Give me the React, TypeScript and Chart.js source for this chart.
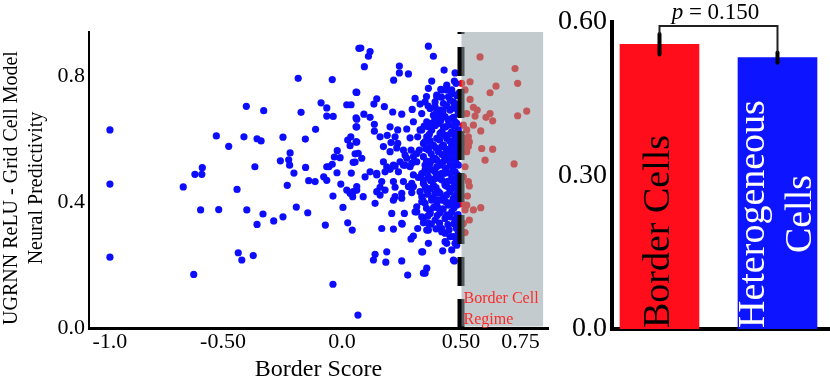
import React, { useEffect, useRef } from 'react';
import { Chart, registerables } from 'chart.js';
Chart.register(...registerables);

const FONT = '"Liberation Serif", "Times New Roman", serif';

// Scatter: non-border (heterogeneous) cells [borderScore, predictivity]
const heterogeneousPoints: [number, number][] = [
  [-0.975, 0.629], [-0.975, 0.457], [-0.975, 0.225],
  [-0.402, 0.704], [-0.528, 0.61], [-0.412, 0.607], [-0.476, 0.577], [-0.587, 0.509], [-0.618, 0.488], [-0.589, 0.488],
  [-0.667, 0.448], [-0.441, 0.44], [-0.594, 0.375], [-0.518, 0.376], [-0.4, 0.375], [-0.436, 0.239], [-0.421, 0.216], [-0.623, 0.17],
  [0.071, 0.888], [-0.184, 0.793], [-0.041, 0.789], [0.059, 0.749], [-0.329, 0.69], [-0.172, 0.685], [-0.088, 0.715], [-0.064, 0.699],
  [0.02, 0.709], [0.038, 0.709], [-0.064, 0.673], [-0.037, 0.672], [0.059, 0.667], [0.059, 0.639], [-0.111, 0.631], [-0.357, 0.601],
  [-0.34, 0.594], [-0.248, 0.606], [-0.154, 0.6], [0.037, 0.607], [0.024, 0.597], [0.059, 0.591], [0.034, 0.579], [-0.02, 0.563],
  [-0.218, 0.556], [0.055, 0.553], [-0.032, 0.543], [-0.008, 0.541], [-0.259, 0.531], [-0.224, 0.534], [-0.22, 0.517], [0.047, 0.526],
  [-0.366, 0.512], [-0.153, 0.51], [-0.064, 0.512], [-0.041, 0.52], [-0.055, 0.512], [-0.202, 0.492], [-0.021, 0.493], [0.039, 0.492],
  [-0.077, 0.48], [-0.064, 0.469], [-0.14, 0.468], [-0.113, 0.465], [-0.23, 0.453], [-0.005, 0.457], [0.02, 0.438], [0.034, 0.428],
  [0.047, 0.433], [0.062, 0.438], [0.045, 0.417], [-0.038, 0.419], [0.004, 0.383], [-0.192, 0.384], [-0.144, 0.366], [-0.332, 0.362],
  [-0.357, 0.329], [-0.287, 0.34], [-0.248, 0.353], [-0.07, 0.327], [0.024, 0.334], [0.043, 0.311], [-0.373, 0.23], [-0.038, 0.139], [0.067, 0.041],
  [0.079, 0.889], [0.118, 0.878], [0.111, 0.863], [0.094, 0.83], [0.241, 0.832], [0.241, 0.81], [0.279, 0.807], [0.217, 0.787],
  [0.062, 0.748], [0.146, 0.728], [0.134, 0.711], [0.178, 0.703], [0.307, 0.729], [0.328, 0.711], [0.295, 0.694], [0.213, 0.686],
  [0.251, 0.679], [0.092, 0.679], [0.118, 0.669], [0.062, 0.663], [0.062, 0.639], [0.136, 0.647], [0.136, 0.625], [0.202, 0.639],
  [0.234, 0.629], [0.272, 0.632], [0.328, 0.629], [0.16, 0.607], [0.19, 0.612], [0.223, 0.607], [0.286, 0.604], [0.318, 0.607],
  [0.062, 0.591], [0.206, 0.589], [0.234, 0.586], [0.174, 0.576], [0.23, 0.572], [0.325, 0.565], [0.202, 0.56], [0.29, 0.565],
  [0.068, 0.555], [0.265, 0.549], [0.3, 0.544], [0.083, 0.539], [0.272, 0.539], [0.244, 0.528], [0.314, 0.528], [0.174, 0.528],
  [0.055, 0.527], [0.265, 0.517], [0.188, 0.512], [0.223, 0.514], [0.286, 0.512], [0.349, 0.517], [0.202, 0.504], [0.237, 0.496],
  [0.118, 0.496], [0.146, 0.486], [0.097, 0.48], [0.3, 0.486], [0.321, 0.478], [0.167, 0.465], [0.216, 0.465], [0.258, 0.465],
  [0.279, 0.449], [0.223, 0.447], [0.16, 0.447], [0.062, 0.449], [0.3, 0.449], [0.181, 0.438], [0.146, 0.433], [0.251, 0.428],
  [0.293, 0.43], [0.089, 0.417], [0.223, 0.417], [0.16, 0.422], [0.335, 0.401], [0.139, 0.396], [0.216, 0.406], [0.314, 0.385],
  [0.314, 0.369], [0.209, 0.364], [0.262, 0.364], [0.335, 0.353], [0.342, 0.334], [0.251, 0.332], [0.167, 0.316], [0.216, 0.314],
  [0.318, 0.316], [0.3, 0.292], [0.29, 0.283], [0.188, 0.242], [0.139, 0.234], [0.132, 0.216], [0.184, 0.209], [0.251, 0.213],
  [0.339, 0.242], [0.342, 0.174], [0.276, 0.168],
  [0.363, 0.895], [0.384, 0.863], [0.429, 0.819], [0.475, 0.81], [0.377, 0.784], [0.472, 0.784], [0.44, 0.771], [0.363, 0.761],
  [0.419, 0.756], [0.461, 0.756], [0.398, 0.74], [0.447, 0.734], [0.349, 0.718], [0.391, 0.718], [0.426, 0.713], [0.468, 0.718],
  [0.37, 0.697], [0.412, 0.692], [0.454, 0.692], [0.482, 0.697], [0.335, 0.681], [0.384, 0.676], [0.433, 0.671], [0.468, 0.669],
  [0.356, 0.655], [0.405, 0.65], [0.447, 0.644], [0.482, 0.65], [0.335, 0.629], [0.377, 0.629], [0.419, 0.623], [0.461, 0.623],
  [0.489, 0.629], [0.356, 0.607], [0.398, 0.602], [0.44, 0.602], [0.475, 0.602], [0.342, 0.586], [0.384, 0.581], [0.426, 0.581],
  [0.461, 0.581], [0.363, 0.565], [0.405, 0.56], [0.447, 0.56], [0.482, 0.56], [0.342, 0.544], [0.391, 0.539], [0.433, 0.539],
  [0.468, 0.539], [0.37, 0.523], [0.412, 0.517], [0.454, 0.517], [0.489, 0.517], [0.349, 0.502], [0.391, 0.496], [0.44, 0.496],
  [0.475, 0.496], [0.363, 0.48], [0.412, 0.475], [0.461, 0.475], [0.342, 0.459], [0.384, 0.454], [0.433, 0.454], [0.475, 0.454],
  [0.356, 0.438], [0.405, 0.433], [0.454, 0.433], [0.335, 0.417], [0.377, 0.412], [0.426, 0.412], [0.468, 0.412], [0.349, 0.396],
  [0.398, 0.39], [0.447, 0.39], [0.482, 0.39], [0.37, 0.369], [0.412, 0.366], [0.461, 0.369], [0.342, 0.348], [0.391, 0.343],
  [0.433, 0.348], [0.475, 0.343], [0.356, 0.311], [0.419, 0.316], [0.433, 0.301], [0.468, 0.29], [0.363, 0.269], [0.44, 0.269],
  [0.482, 0.263], [0.335, 0.242], [0.423, 0.245], [0.472, 0.213], [0.356, 0.19], [0.349, 0.174],
  [0.415, 0.758], [0.3, 0.655], [0.363, 0.639], [0.258, 0.565], [0.37, 0.576], [0.391, 0.703], [0.412, 0.676], [0.377, 0.65],
  [0.426, 0.639], [0.398, 0.734], [0.454, 0.724], [0.461, 0.745], [0.468, 0.698], [0.447, 0.66], [0.475, 0.655], [0.44, 0.607],
  [0.475, 0.618], [0.412, 0.618], [0.461, 0.576], [0.419, 0.576], [0.349, 0.592], [0.479, 0.777], [0.44, 0.756],
  [0.314, 0.554], [0.216, 0.517], [0.258, 0.517], [0.293, 0.523], [0.363, 0.523], [0.398, 0.533], [0.44, 0.544], [0.146, 0.491],
  [0.181, 0.496], [0.377, 0.502], [0.419, 0.491], [0.454, 0.491], [0.293, 0.459], [0.342, 0.47], [0.391, 0.475], [0.433, 0.459],
  [0.468, 0.465], [0.328, 0.433], [0.37, 0.443], [0.412, 0.428], [0.454, 0.438], [0.475, 0.417], [0.251, 0.412], [0.377, 0.406],
  [0.419, 0.406], [0.454, 0.396], [0.307, 0.369], [0.37, 0.364], [0.405, 0.38], [0.44, 0.359], [0.363, 0.332], [0.253, 0.33],
  [0.363, 0.311], [0.419, 0.306], [0.454, 0.29], [0.433, 0.274], [0.475, 0.269], [0.461, 0.248], [0.468, 0.216],
  [0.49, 0.745], [0.49, 0.71], [0.488, 0.68], [0.49, 0.6], [0.488, 0.58], [0.49, 0.545], [0.49, 0.475], [0.488, 0.44],
  [0.49, 0.41], [0.488, 0.36], [0.49, 0.33], [0.488, 0.3], [0.49, 0.28],
  [0.355, 0.735], [0.418, 0.733], [0.482, 0.738], [0.362, 0.705], [0.44, 0.706], [0.476, 0.712], [0.398, 0.688], [0.425, 0.69],
  [0.39, 0.662], [0.415, 0.659], [0.458, 0.664], [0.345, 0.641], [0.392, 0.643], [0.435, 0.638], [0.47, 0.642], [0.367, 0.615],
  [0.43, 0.613], [0.456, 0.617], [0.486, 0.612], [0.37, 0.595], [0.41, 0.597], [0.452, 0.594], [0.478, 0.59], [0.352, 0.57],
  [0.395, 0.572], [0.437, 0.568], [0.47, 0.571], [0.375, 0.553], [0.42, 0.551], [0.46, 0.555], [0.355, 0.53], [0.38, 0.534],
  [0.425, 0.528], [0.45, 0.532], [0.478, 0.527], [0.366, 0.509], [0.398, 0.512], [0.435, 0.507], [0.465, 0.51], [0.335, 0.49],
  [0.357, 0.492], [0.4, 0.487], [0.43, 0.491], [0.485, 0.486], [0.372, 0.468], [0.42, 0.47], [0.445, 0.466], [0.48, 0.469],
  [0.35, 0.448], [0.395, 0.446], [0.44, 0.45], [0.465, 0.445], [0.36, 0.425], [0.39, 0.427], [0.44, 0.423], [0.482, 0.426],
  [0.34, 0.405], [0.4, 0.407], [0.435, 0.402], [0.465, 0.404], [0.355, 0.38], [0.385, 0.383], [0.425, 0.378], [0.47, 0.381],
  [0.36, 0.355], [0.4, 0.357], [0.455, 0.353], [0.485, 0.356], [0.375, 0.33], [0.41, 0.333], [0.445, 0.328], [0.47, 0.331],
  [0.395, 0.315], [0.45, 0.312], [0.48, 0.317],
];

// Scatter: border cells (border score above threshold)
const borderPoints: [number, number][] = [
  [0.58, 0.861], [0.727, 0.824], [0.738, 0.777], [0.503, 0.777], [0.538, 0.782], [0.647, 0.768], [0.622, 0.747], [0.517, 0.756],
  [0.538, 0.726], [0.552, 0.701], [0.568, 0.692], [0.524, 0.681], [0.776, 0.689], [0.738, 0.674], [0.622, 0.681], [0.605, 0.669],
  [0.633, 0.658], [0.559, 0.673], [0.51, 0.644], [0.552, 0.644], [0.583, 0.626], [0.524, 0.629], [0.517, 0.602], [0.535, 0.591],
  [0.531, 0.576], [0.51, 0.581], [0.587, 0.57], [0.633, 0.568], [0.524, 0.56], [0.601, 0.533], [0.723, 0.521], [0.517, 0.512],
  [0.51, 0.48], [0.531, 0.465], [0.535, 0.451], [0.527, 0.419], [0.503, 0.394], [0.524, 0.39], [0.552, 0.375], [0.583, 0.382],
  [0.517, 0.375], [0.535, 0.343], [0.51, 0.332], [0.517, 0.303], [0.527, 0.596], [0.531, 0.607], [0.524, 0.588],
];

const xTickValues = [-0.975, -0.5, 0, 0.5, 0.75];
const xTickLabels = ['-1.0', '-0.50', '0.0', '0.50', '0.75'];
const yTickValues = [0, 0.4, 0.8];
const yTickLabels = ['0.0', '0.4', '0.8'];
const borderThreshold = 0.5;
const regimeEnd = 0.845;
const regimeLabel = ['Border Cell', 'Regime'];
const xTitle = 'Border Score';
const yTitle = ['UGRNN ReLU - Grid Cell Model', 'Neural Predictivity'];

// Bar chart
const barCategories: string[][] = [['Border Cells'], ['Heterogeneous', 'Cells']];
const barValues = [0.556, 0.53];
const barErrors = [0.02, 0.01];
const barColors = ['#ff0d1a', '#0d14ff'];
const barTextColors = ['#000000', '#ffffff'];
const barTickValues = [0, 0.3, 0.6];
const barTickLabels = ['0.0', '0.30', '0.60'];
const pValue = '0.150';

const scatterOverlay = {
  id: 'scatterOverlay',
  afterDatasetsDraw(chart: any) {
    const { ctx, chartArea, scales } = chart;
    const x = scales.x;
    const xl = x.getPixelForValue(borderThreshold);
    const xr = x.getPixelForValue(regimeEnd);
    ctx.save();
    ctx.beginPath();
    ctx.setLineDash([29, 13]);
    ctx.lineWidth = 7;
    ctx.strokeStyle = '#000';
    ctx.moveTo(xl, chartArea.bottom);
    ctx.lineTo(xl, chartArea.top);
    ctx.stroke();
    ctx.setLineDash([]);
    ctx.fillStyle = 'rgba(145,160,165,0.55)';
    ctx.fillRect(xl + 0.5, chartArea.top, xr - xl - 0.5, chartArea.bottom - chartArea.top - 1.5);
    ctx.fillStyle = '#ff2a2a';
    ctx.font = `16px ${FONT}`;
    ctx.textAlign = 'left';
    ctx.textBaseline = 'alphabetic';
    ctx.fillText(regimeLabel[0], xl + 2.5, chartArea.bottom - 25);
    ctx.fillText(regimeLabel[1], xl + 2.5, chartArea.bottom - 4);
    ctx.restore();
  },
  afterDraw(chart: any) {
    const { ctx, chartArea } = chart;
    ctx.save();
    ctx.fillStyle = '#000';
    ctx.font = `20px ${FONT}`;
    ctx.textAlign = 'center';
    ctx.textBaseline = 'middle';
    const cy = (chartArea.top + chartArea.bottom) / 2 + 8;
    const cols = [11.5, 36.5];
    yTitle.forEach((line, i) => {
      ctx.save();
      ctx.translate(cols[i], cy);
      ctx.rotate(-Math.PI / 2);
      ctx.fillText(line, 0, 0);
      ctx.restore();
    });
    ctx.restore();
  },
};

const barOverlay = {
  id: 'barOverlay',
  afterDatasetsDraw(chart: any) {
    const { ctx, scales } = chart;
    const xs = scales.x;
    const ys = scales.y;
    const base = ys.getPixelForValue(0);
    ctx.save();
    barCategories.forEach((lines, i) => {
      const cx = xs.getPixelForValue(i);
      ctx.save();
      ctx.font = `38px ${FONT}`;
      ctx.fillStyle = barTextColors[i];
      ctx.textAlign = 'center';
      ctx.textBaseline = 'middle';
      const maxW = Math.max(...lines.map((l) => ctx.measureText(l).width));
      ctx.translate(cx, base - 1);
      ctx.rotate(-Math.PI / 2);
      lines.forEach((l, j) => {
        ctx.fillText(l, maxW / 2, (j - (lines.length - 1) / 2) * 47);
      });
      ctx.restore();
    });
    ctx.strokeStyle = '#000';
    ctx.lineCap = 'round';
    const tops: number[] = [];
    barValues.forEach((v, i) => {
      const cx = xs.getPixelForValue(i);
      const t = ys.getPixelForValue(v + barErrors[i]);
      const b = ys.getPixelForValue(v - barErrors[i]);
      tops.push(t);
      ctx.lineWidth = 4;
      ctx.beginPath();
      ctx.moveTo(cx, b);
      ctx.lineTo(cx, t);
      ctx.stroke();
    });
    const x0 = xs.getPixelForValue(0);
    const x1 = xs.getPixelForValue(1);
    const yb = Math.min(...tops) - 8;
    ctx.lineCap = 'butt';
    ctx.lineWidth = 2;
    ctx.strokeStyle = '#222';
    ctx.beginPath();
    ctx.moveTo(x0, tops[0]);
    ctx.lineTo(x0, yb);
    ctx.lineTo(x1, yb);
    ctx.lineTo(x1, tops[1]);
    ctx.stroke();
    ctx.fillStyle = '#000';
    ctx.textBaseline = 'alphabetic';
    ctx.textAlign = 'left';
    ctx.font = `italic 23px ${FONT}`;
    const wp = ctx.measureText('p').width;
    ctx.font = `23px ${FONT}`;
    const rest = ` = ${pValue}`;
    const wr = ctx.measureText(rest).width;
    const startX = (x0 + x1) / 2 - 3 - (wp + wr) / 2;
    ctx.font = `italic 23px ${FONT}`;
    ctx.fillText('p', startX, yb - 7);
    ctx.font = `23px ${FONT}`;
    ctx.fillText(rest, startX + wp, yb - 7);
    ctx.restore();
  },
};

export default function App() {
  const leftRef = useRef<HTMLCanvasElement>(null);
  const rightRef = useRef<HTMLCanvasElement>(null);

  useEffect(() => {
    const scatter = new Chart(leftRef.current as HTMLCanvasElement, {
      type: 'scatter',
      data: {
        datasets: [
          {
            data: heterogeneousPoints.map(([x, y]) => ({ x, y })),
            backgroundColor: '#0c0cff',
            pointRadius: 3.6,
            borderWidth: 0,
          },
          {
            data: borderPoints.map(([x, y]) => ({ x, y })),
            backgroundColor: '#ff0000',
            pointRadius: 3.6,
            borderWidth: 0,
          },
        ],
      },
      options: {
        responsive: false,
        animation: false,
        events: [],
        layout: { padding: { top: 32, right: 4, left: 0, bottom: 0 } },
        plugins: { legend: { display: false }, tooltip: { enabled: false } },
        scales: {
          x: {
            type: 'linear',
            min: -1.063,
            max: 0.8655,
            afterBuildTicks: (s: any) => {
              s.ticks = xTickValues.map((v) => ({ value: v }));
            },
            afterFit: (s: any) => {
              s.height = 54;
            },
            ticks: {
              autoSkip: false,
              maxRotation: 0,
              padding: 1,
              color: '#000',
              font: { family: FONT, size: 22 },
              callback: (v: any) => {
                const i = xTickValues.indexOf(Number(v));
                return i >= 0 ? xTickLabels[i] : '';
              },
            },
            grid: { display: false, drawTicks: false },
            border: { display: true, color: '#000', width: 3 },
            title: {
              display: true,
              text: xTitle,
              color: '#000',
              padding: 0,
              font: { family: FONT, size: 24, lineHeight: 1 },
            },
          },
          y: {
            type: 'linear',
            min: 0,
            max: 0.94,
            afterBuildTicks: (s: any) => {
              s.ticks = yTickValues.map((v) => ({ value: v }));
            },
            afterFit: (s: any) => {
              s.width = 89;
            },
            ticks: {
              padding: 4,
              color: '#000',
              font: { family: FONT, size: 22 },
              callback: (v: any) => {
                const i = yTickValues.indexOf(Number(v));
                return i >= 0 ? yTickLabels[i] : '';
              },
            },
            grid: { display: false, drawTicks: false },
            border: { display: true, color: '#000', width: 2 },
          },
        },
      },
      plugins: [scatterOverlay],
    });

    const bars = new Chart(rightRef.current as HTMLCanvasElement, {
      type: 'bar',
      data: {
        datasets: [
          {
            data: barValues.map((v, i) => ({ x: i, y: v })),
            backgroundColor: barColors,
            borderWidth: 0,
            barThickness: 79,
          },
        ],
      },
      options: {
        responsive: false,
        animation: false,
        events: [],
        layout: { padding: { top: 20, right: 0, left: 0, bottom: 0 } },
        plugins: { legend: { display: false }, tooltip: { enabled: false } },
        scales: {
          x: {
            type: 'linear',
            offset: false,
            min: -0.4025,
            max: 1.445,
            afterFit: (s: any) => {
              s.height = 53;
            },
            ticks: { display: false },
            grid: { display: false, drawTicks: false },
            border: { display: true, color: '#000', width: 4 },
          },
          y: {
            type: 'linear',
            min: 0,
            max: 0.6,
            afterBuildTicks: (s: any) => {
              s.ticks = barTickValues.map((v) => ({ value: v }));
            },
            afterFit: (s: any) => {
              s.width = 60;
            },
            ticks: {
              padding: 5,
              color: '#000',
              font: { family: FONT, size: 28 },
              callback: (v: any) => {
                const i = barTickValues.indexOf(Number(v));
                return i >= 0 ? barTickLabels[i] : '';
              },
            },
            grid: { display: false, drawTicks: false },
            border: { display: true, color: '#000', width: 4 },
          },
        },
      },
      plugins: [barOverlay],
    });

    return () => {
      scatter.destroy();
      bars.destroy();
    };
  }, []);

  return (
    <div style={{ position: 'absolute', left: 0, top: 0, width: 830, height: 382, background: '#fff' }}>
      <canvas
        ref={leftRef}
        width={552}
        height={382}
        style={{ position: 'absolute', left: 0, top: 0, width: 552, height: 382, display: 'block' }}
      />
      <canvas
        ref={rightRef}
        width={278}
        height={382}
        style={{ position: 'absolute', left: 552, top: 0, width: 278, height: 382, display: 'block' }}
      />
    </div>
  );
}
